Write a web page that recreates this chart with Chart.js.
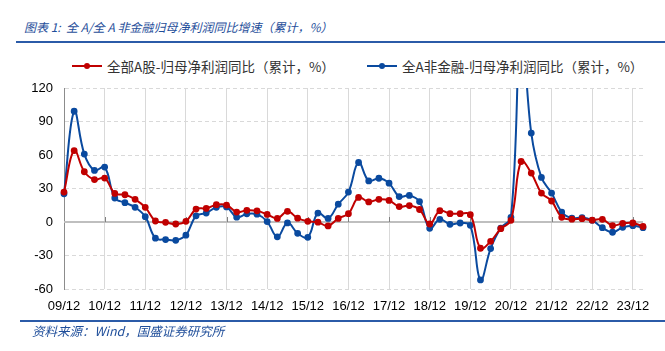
<!DOCTYPE html>
<html>
<head>
<meta charset="utf-8">
<script src="https://cdn.jsdelivr.net/npm/chart.js@4.4.1/dist/chart.umd.min.js"></script>
<style>
    body { margin: 0; background: #fff; }
    #wrap { position: relative; width: 665px; height: 351px; overflow: hidden; font-family: "Noto Sans CJK SC", "Noto Sans", sans-serif; }
    #chart { position: absolute; left: 0; top: 0; }
    .title { position: absolute; left: 24px; top: 18px; font-size: 12px; font-style: italic; color: #1f4e9a; white-space: nowrap; }
    .rule { position: absolute; height: 2px; background: #2b5ba8; right: 0; }
    .source { position: absolute; left: 32px; top: 321px; font-size: 12.5px; font-style: italic; color: #1f4e9a; white-space: nowrap; }
    .legend-item { position: absolute; top: 57px; height: 18px; font-size: 13.5px; color: #333; white-space: nowrap; }
    .legend-item .ln { position: absolute; top: 8px; height: 2px; }
    .legend-item .dot { position: absolute; top: 6px; width: 6px; height: 6px; border-radius: 50%; }
    .legend-item .txt { position: absolute; top: 0; line-height: 18px; }
</style>
</head>
<body>
<div id="wrap">
    <div class="title">图表 1:&nbsp; 全 A/全 A 非金融归母净利润同比增速（累计，%）</div>
    <div class="rule" style="left:16px; top:41px;"></div>
    <div class="legend-item" id="leg1" style="left:72px;">
        <div class="ln" style="left:0; width:30px; background:#c00000;"></div>
        <div class="dot" style="left:12px; background:#c00000;"></div>
        <div class="txt" style="left:35px;">全部A股-归母净利润同比（累计，%）</div>
    </div>
    <div class="legend-item" id="leg2" style="left:367px;">
        <div class="ln" style="left:0; width:30px; background:#0a4a9f;"></div>
        <div class="dot" style="left:12px; background:#0a4a9f;"></div>
        <div class="txt" style="left:35px;">全A非金融-归母净利润同比（累计，%）</div>
    </div>
    <canvas id="chart" width="665" height="351"></canvas>
    <div class="rule" style="left:20px; top:320px;"></div>
    <div class="source">资料来源：Wind，国盛证券研究所</div>
</div>

<script>
// quarterly periods, 09/12 .. 24/03
const quarters = [
    '09/12', '10/03', '10/06', '10/09', '10/12', '11/03', '11/06', '11/09', '11/12',
    '12/03', '12/06', '12/09', '12/12', '13/03', '13/06', '13/09', '13/12',
    '14/03', '14/06', '14/09', '14/12', '15/03', '15/06', '15/09', '15/12',
    '16/03', '16/06', '16/09', '16/12', '17/03', '17/06', '17/09', '17/12',
    '18/03', '18/06', '18/09', '18/12', '19/03', '19/06', '19/09', '19/12',
    '20/03', '20/06', '20/09', '20/12', '21/03', '21/06', '21/09', '21/12',
    '22/03', '22/06', '22/09', '22/12', '23/03', '23/06', '23/09', '23/12', '24/03'
];

// 全部A股-归母净利润同比（累计，%）
const allA = [
    26.8, 64, 45, 38, 39.3, 25.6, 24.4, 20.3, 13.1,
    0.9, -0.3, -1.8, 0.6, 11.6, 12.2, 15.5, 15.2,
    8.9, 10.5, 10, 6.8, 3.2, 9.6, 3.4, 0.6,
    -0.2, -3.5, 3.2, 7.5, 22, 18, 20.3, 19.3,
    13.8, 14.7, 11.2, -1.8, 10.1, 7.5, 7.5, 6.6,
    -23.5, -17.3, -6, 1.5, 54.2, 43.8, 25.9, 18.8,
    4.2, 2.5, 3, 1.6, 2.4, -3.2, -1.2, -0.9, -4
];

// 全A非金融-归母净利润同比（累计，%）
const nonFin = [
    25.3, 99.2, 60.8, 46.2, 49.2, 21.5, 17.3, 13.1, 4.8,
    -14.5, -15.7, -16.4, -11.8, 5.5, 8, 13.2, 13.5,
    4.3, 7.3, 7, 0.4, -13.3, -0.8, -10.1, -13.7,
    8, 3.2, 16, 26.8, 53.3, 36.8, 39.2, 34.8,
    22.8, 23.8, 18.3, -5.7, 2.4, -2.1, -0.9, -3,
    -51.9, -23.8, -5.4, 4.2, 175, 79.6, 39.9, 25.9,
    8.9, 3.4, 4, 1.5, -5.1, -9.2, -4.8, -3.3, -5.1
];

const yMin = -60;
const yMax = 120;
const yStep = 30;

// solid zero line with small tick marks, like the excel axis crossing at 0
const zeroLine = {
    id: 'zeroLine',
    beforeDatasetsDraw(chart) {
        const { ctx, chartArea, scales } = chart;
        const y = scales.y.getPixelForValue(0);
        ctx.save();
        ctx.strokeStyle = '#bfbfbf';
        ctx.lineWidth = 2;
        ctx.beginPath();
        ctx.moveTo(chartArea.left, y);
        ctx.lineTo(chartArea.right, y);
        ctx.stroke();
        ctx.strokeStyle = '#808080';
        ctx.lineWidth = 1;
        quarters.forEach((q, i) => {
            if (i % 4 !== 0 || i === 0) return;
            const x = Math.round(scales.x.getPixelForValue(i)) + 0.5;
            ctx.beginPath();
            ctx.moveTo(x, y - 5);
            ctx.lineTo(x, y);
            ctx.stroke();
        });
        ctx.restore();
    }
};

const ctx = document.getElementById('chart').getContext('2d');
const chart = new Chart(ctx, {
    type: 'line',
    data: {
        labels: quarters,
        datasets: [
            {
                label: '全部A股-归母净利润同比（累计，%）',
                data: allA,
                borderColor: '#c00000',
                backgroundColor: '#c00000',
                borderWidth: 2,
                pointRadius: 2.4,
                pointHoverRadius: 2.4,
                tension: 0.4
            },
            {
                label: '全A非金融-归母净利润同比（累计，%）',
                data: nonFin,
                borderColor: '#0a4a9f',
                backgroundColor: '#0a4a9f',
                borderWidth: 2,
                pointRadius: 2.4,
                pointHoverRadius: 2.4,
                tension: 0.4
            }
        ]
    },
    options: {
        responsive: false,
        animation: false,
        layout: { padding: { left: 0, top: 88, right: 22, bottom: 0 } },
        plugins: {
            legend: { display: false },
            tooltip: { enabled: false }
        },
        scales: {
            x: {
                afterFit: (scale) => { scale.height = 62; },
                border: { display: false },
                grid: {
                    drawTicks: false,
                    color: (c) => (c.index % 4 === 0 ? '#d9d9d9' : 'rgba(0,0,0,0)'),
                    lineWidth: 1
                },
                ticks: {
                    autoSkip: false,
                    maxRotation: 0,
                    padding: 10,
                    color: '#000',
                    font: { family: 'Liberation Sans', size: 13 },
                    callback: (val, i) => (i % 4 === 0 ? quarters[i] : '')
                }
            },
            y: {
                min: yMin,
                max: yMax,
                afterFit: (scale) => { scale.width = 64; },
                border: { display: true, color: '#8c8c8c', width: 1, dash: [4, 3] },
                grid: {
                    drawTicks: false,
                    color: '#d9d9d9',
                    lineWidth: 1
                },
                ticks: {
                    stepSize: yStep,
                    padding: 11,
                    color: '#000',
                    font: { family: 'Liberation Sans', size: 13 }
                }
            }
        }
    },
    plugins: [zeroLine]
});
</script>
</body>
</html>
